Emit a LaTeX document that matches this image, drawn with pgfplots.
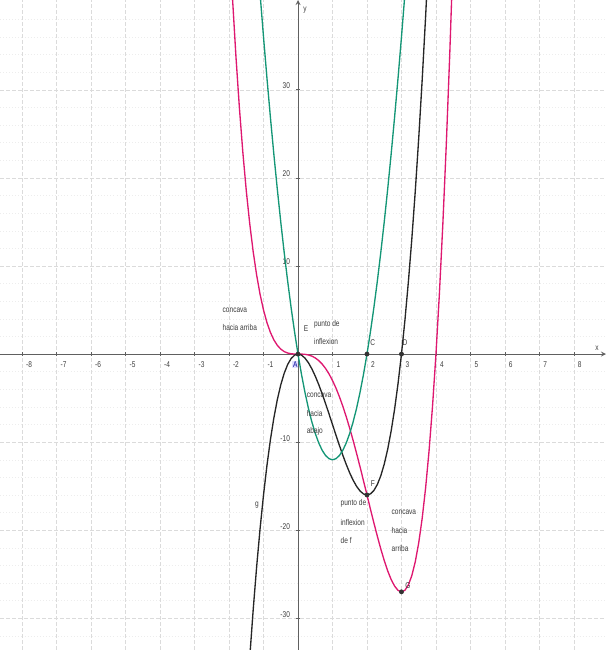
\documentclass[border=0pt]{standalone}
\usepackage{fontspec}
\setmainfont{Liberation Sans}
\newfontfamily\ggb[FakeStretch=0.78]{Liberation Sans}
\usepackage{pgfplots}
\pgfplotsset{compat=1.18}
\definecolor{fmag}{RGB}{222,24,112}
\definecolor{fgreen}{RGB}{20,150,118}
\definecolor{txt}{RGB}{60,60,60}
\newcommand{\lab}{\ggb\fontsize{6.3}{7}\selectfont}
\begin{document}
\begin{tikzpicture}
\useasboundingbox (0,0) rectangle (454.5pt,487.5pt);
\begin{axis}[
  scale only axis, width=454.5pt, height=487.5pt,
  xmin=-8.64, xmax=8.93, ymin=-33.6, ymax=40.2,
  axis lines=middle,
  axis line style={draw=gray!75!black, line width=0.7pt},
  xtick={-8,-7,-6,-5,-4,-3,-2,-1,1,2,3,4,5,6,7,8},
  ytick={-30,-20,-10,10,20,30},
  minor ytick={-32,-28,-26,-24,-22,-18,-16,-14,-12,-8,-6,-4,-2,2,4,6,8,12,14,16,18,22,24,26,28,32,34,36,38},
  grid=both,
  major grid style={draw=gray!28, line width=0.4pt, dash pattern=on 3pt off 1.5pt},
  minor grid style={draw=gray!14, line width=0.3pt, dotted},
  tick align=center, major tick length=3pt, minor tick length=0pt,
  tick style={draw=gray!75!black, line width=0.5pt},
  /pgf/number format/assume math mode=true,
  ticklabel style={font=\lab, text=txt},
  xticklabel style={anchor=north west, xshift=-0.5pt, yshift=-1pt},
  yticklabel style={anchor=east, yshift=3pt, xshift=-1pt},
  clip=true,
]
% f(x) = x^4 - 4x^3
\addplot[color=fmag, line width=1pt] coordinates {
(-1.9,40.468)(-1.8,33.826)(-1.7,28.004)(-1.6,22.938)(-1.5,18.563)(-1.4,14.818)
(-1.3,11.644)(-1.2,8.986)(-1.1,6.788)(-1.0,5)(-0.9,3.572)(-0.8,2.458)(-0.7,1.612)
(-0.6,0.994)(-0.5,0.5625)(-0.4,0.2816)(-0.3,0.1161)(-0.2,0.0336)(-0.1,0.0041)(0,0)
(0.1,-0.0039)(0.2,-0.0304)(0.3,-0.0999)(0.4,-0.2304)(0.5,-0.4375)(0.6,-0.7344)
(0.7,-1.1319)(0.8,-1.6384)(0.9,-2.2599)(1.0,-3)(1.1,-3.8599)(1.2,-4.8384)(1.3,-5.9319)
(1.4,-7.1344)(1.5,-8.4375)(1.6,-9.8304)(1.7,-11.2999)(1.8,-12.8304)(1.9,-14.4039)
(2.0,-16)(2.1,-17.5959)(2.2,-19.1664)(2.3,-20.6839)(2.4,-22.1184)(2.5,-23.4375)
(2.6,-24.6064)(2.7,-25.5879)(2.8,-26.3424)(2.9,-26.8279)(3.0,-27)(3.1,-26.8119)
(3.2,-26.2144)(3.3,-25.1559)(3.4,-23.5824)(3.5,-21.4375)(3.6,-18.6624)(3.7,-15.1959)
(3.8,-10.9744)(3.9,-5.9319)(4.0,0)(4.1,6.8921)(4.2,14.8176)(4.3,23.8521)(4.4,34.0736)
(4.5,45.5625)
};
% g(x) = 4x^3 - 12x^2
\addplot[color=black!85, line width=1pt] coordinates {
(-1.4,-34.496)(-1.3,-29.068)(-1.2,-24.192)(-1.1,-19.844)(-1.0,-16)(-0.9,-12.636)
(-0.8,-9.728)(-0.7,-7.252)(-0.6,-5.184)(-0.5,-3.5)(-0.4,-2.176)(-0.3,-1.188)
(-0.2,-0.512)(-0.1,-0.124)(0,0)(0.1,-0.116)(0.2,-0.448)(0.3,-0.972)(0.4,-1.664)
(0.5,-2.5)(0.6,-3.456)(0.7,-4.508)(0.8,-5.632)(0.9,-6.804)(1.0,-8)(1.1,-9.196)
(1.2,-10.368)(1.3,-11.492)(1.4,-12.544)(1.5,-13.5)(1.6,-14.336)(1.7,-15.028)
(1.8,-15.552)(1.9,-15.884)(2.0,-16)(2.1,-15.876)(2.2,-15.488)(2.3,-14.812)
(2.4,-13.824)(2.5,-12.5)(2.6,-10.816)(2.7,-8.748)(2.8,-6.272)(2.9,-3.364)(3.0,0)
(3.1,3.844)(3.2,8.192)(3.3,13.068)(3.4,18.496)(3.5,24.5)(3.6,31.104)(3.7,38.332)
(3.8,46.208)
};
% h(x) = 12x^2 - 24x
\addplot[color=fgreen, line width=1pt] coordinates {
(-1.1,40.92)(-1.0,36)(-0.9,31.32)(-0.8,26.88)(-0.7,22.68)(-0.6,18.72)(-0.5,15)
(-0.4,11.52)(-0.3,8.28)(-0.2,5.28)(-0.1,2.52)(0,0)(0.1,-2.28)(0.2,-4.32)(0.3,-6.12)
(0.4,-7.68)(0.5,-9)(0.6,-10.08)(0.7,-10.92)(0.8,-11.52)(0.9,-11.88)(1.0,-12)
(1.1,-11.88)(1.2,-11.52)(1.3,-10.92)(1.4,-10.08)(1.5,-9)(1.6,-7.68)(1.7,-6.12)
(1.8,-4.32)(1.9,-2.28)(2.0,0)(2.1,2.52)(2.2,5.28)(2.3,8.28)(2.4,11.52)(2.5,15)
(2.6,18.72)(2.7,22.68)(2.8,26.88)(2.9,31.32)(3.0,36)(3.1,40.92)
};
% points
\addplot[only marks, mark=*, mark size=1.6pt, color=black!80] coordinates {
(0,0)(2,0)(3,0)(2,-16)(3,-27)
};
% texts
\node[anchor=west, text=txt, font=\lab] at (axis cs:-2.32,5.0) {concava};
\node[anchor=west, text=txt, font=\lab] at (axis cs:-2.32,3.07) {hacia arriba};
\node[anchor=west, text=txt, font=\lab] at (axis cs:0.33,3.41) {punto de};
\node[anchor=west, text=txt, font=\lab] at (axis cs:0.33,1.48) {inflexion};
\node[anchor=west, text=txt, font=\lab] at (axis cs:0.12,-4.66) {concava};
\node[anchor=west, text=txt, font=\lab] at (axis cs:0.12,-6.70) {hacia};
\node[anchor=west, text=txt, font=\lab] at (axis cs:0.12,-8.75) {abajo};
\node[anchor=west, text=txt, font=\lab] at (axis cs:1.1,-16.93) {punto de};
\node[anchor=west, text=txt, font=\lab] at (axis cs:1.1,-19.09) {inflexion};
\node[anchor=west, text=txt, font=\lab] at (axis cs:1.1,-21.14) {de f};
\node[anchor=west, text=txt, font=\lab] at (axis cs:2.58,-17.95) {concava};
\node[anchor=west, text=txt, font=\lab] at (axis cs:2.58,-20.0) {hacia};
\node[anchor=west, text=txt, font=\lab] at (axis cs:2.58,-22.05) {arriba};
% labels
\node[text=txt, font=\lab] at (axis cs:0.23,2.9) {E};
\node[text=blue!60!black, font=\lab, fill=blue!12, inner sep=0.6pt] at (axis cs:-0.08,-1.2) {A};
\node[text=txt, font=\lab] at (axis cs:2.17,1.25) {C};
\node[text=txt, font=\lab] at (axis cs:3.1,1.25) {D};
\node[text=txt, font=\lab] at (axis cs:2.17,-14.7) {F};
\node[text=txt, font=\lab] at (axis cs:3.19,-26.25) {G};
\node[text=txt, font=\lab] at (axis cs:-1.19,-17.2) {g};
\node[text=txt, font=\lab] at (axis cs:8.67,0.7) {x};
\node[text=txt, font=\lab] at (axis cs:0.2,39.1) {y};
\end{axis}
\end{tikzpicture}
\end{document}
